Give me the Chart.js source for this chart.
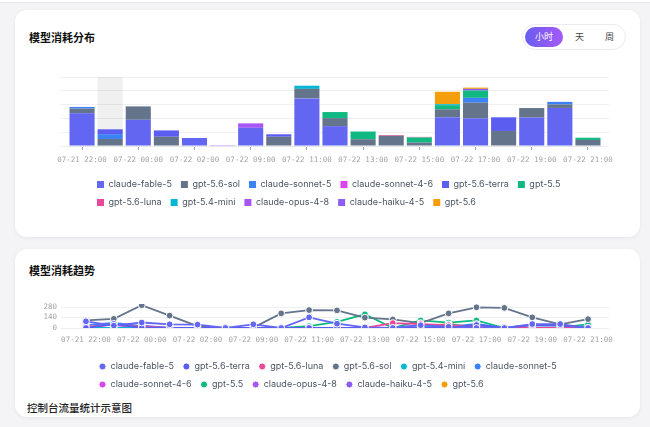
<!DOCTYPE html>
<html lang="zh">
<head>
<meta charset="utf-8">
<script src="https://cdn.jsdelivr.net/npm/chart.js@4.4.1/dist/chart.umd.min.js"></script>
<style>
  body { margin: 0; width: 650px; height: 427px; overflow: hidden; background: #f4f4f6; font-family: Inter, "Noto Sans CJK SC", sans-serif; position: relative; }
  .barra-superior { position: absolute; left: 0; top: -10px; width: 650px; height: 12px; background: #fff; border-bottom: 1px solid #e6e6ea; }
  .card { position: absolute; left: 15px; width: 625px; background: #fff; border-radius: 12px; box-shadow: 0 1px 4px rgba(0,0,0,0.06); }
  .titulo { position: absolute; left: 14px; font-family: "Noto Sans CJK SC", sans-serif; font-weight: 700; font-size: 11px; color: #111; }
  .toggle { position: absolute; left: 507px; top: 14px; width: 102px; height: 24px; border: 1px solid #ececf0; border-radius: 13px; background: #fff; font-family: "Noto Sans CJK SC", sans-serif; font-size: 9px; color: #444; }
  .toggle span { position: absolute; top: 0; line-height: 24px; }
  .toggle .activo { left: 2px; top: 2px; width: 38px; height: 20px; line-height: 20px; border-radius: 10px; text-align: center; color: #fff; background: linear-gradient(90deg, #6a5cf0, #a45bf6); }
  .contenedor { position: absolute; left: 0; width: 625px; }
  .pie { position: absolute; left: 12px; top: 151px; font-family: "Noto Sans CJK SC", sans-serif; font-size: 10.5px; font-weight: 500; color: #222; }
</style>
</head>
<body>
<div class="barra-superior"></div>
<div class="card" style="top:10px;height:227px;">
  <div class="titulo" style="top:19px;">模型消耗分布</div>
  <div class="toggle">
    <span class="activo">小时</span>
    <span style="left:52px;">天</span>
    <span style="left:82px;">周</span>
  </div>
  <div class="contenedor" style="top:57px;height:150px;"><canvas id="graficoBarras"></canvas></div>
</div>
<div class="card" style="top:249px;height:168px;">
  <div class="titulo" style="top:13px;">模型消耗趋势</div>
  <div class="contenedor" style="top:45px;height:105px;"><canvas id="graficoLineas"></canvas></div>
  <div class="pie">控制台流量统计示意图</div>
</div>
<script>
// categorias del eje x (una por hora)
const categorias = ['07-21 22:00', '07-21 23:00', '07-22 00:00', '07-22 01:00', '07-22 02:00', '07-22 08:00',
  '07-22 09:00', '07-22 10:00', '07-22 11:00', '07-22 12:00', '07-22 13:00', '07-22 14:00', '07-22 15:00',
  '07-22 16:00', '07-22 17:00', '07-22 18:00', '07-22 19:00', '07-22 20:00', '07-22 21:00'];

// distribucion (barras apiladas)
const barFable5     = [238, 0, 190, 0, 58, 0, 132, 0, 345, 144, 0, 0, 0, 208, 201, 0, 206, 276, 0];
const barSol        = [33, 51, 97, 67, 0, 0, 0, 67, 69, 58, 49, 74, 25, 58, 113, 109, 69, 25, 44];
const barSonnet5    = [12, 35, 0, 0, 0, 0, 0, 0, 0, 0, 0, 0, 0, 0, 35, 0, 0, 19, 0];
const barSonnet46   = [0, 0, 0, 0, 0, 0, 0, 0, 0, 0, 0, 0, 0, 0, 0, 0, 0, 0, 0];
const barTerra      = [0, 35, 0, 46, 0, 0, 0, 18, 0, 0, 0, 0, 0, 0, 0, 99, 0, 0, 0];
const barGpt55      = [0, 0, 0, 0, 0, 0, 0, 0, 0, 44, 56, 0, 37, 30, 53, 0, 0, 0, 16];
const barLuna       = [0, 0, 0, 0, 0, 0, 0, 0, 0, 0, 0, 5, 4, 0, 0, 0, 0, 0, 0];
const barMini       = [0, 0, 0, 0, 0, 0, 0, 0, 23, 0, 0, 0, 0, 7, 0, 0, 0, 0, 0];
const barOpus48     = [0, 0, 0, 0, 0, 6, 32, 0, 0, 0, 0, 0, 0, 0, 0, 0, 0, 0, 0];
const barHaiku45    = [0, 0, 0, 0, 0, 0, 0, 0, 0, 0, 0, 0, 0, 0, 12, 0, 0, 0, 0];
const barGpt56      = [0, 0, 0, 0, 0, 0, 0, 0, 0, 0, 0, 0, 0, 90, 9, 0, 0, 0, 0];

// tendencia (lineas)
const linFable5     = [89, 32, 73, 49, 45, 0, 49, 0, 142, 57, 8, 0, 37, 16, 0, 0, 53, 53, 0];
const linTerra      = [0, 55, 0, 0, 0, 0, 0, 0, 0, 0, 0, 0, 0, 0, 40, 0, 40, 35, 0];
const linLuna       = [16, 45, 16, 0, 0, 0, 0, 0, 0, 0, 0, 65, 53, 37, 16, 0, 0, 0, 0];
const linSol        = [101, 122, 304, 166, 24, 0, 5, 195, 239, 235, 138, 114, 65, 195, 276, 268, 142, 49, 118];
const linMini       = [0, 0, 0, 0, 0, 0, 0, 0, 0, 0, 0, 0, 0, 50, 0, 0, 0, 0, 0];
const linSonnet5    = [37, 69, 24, 0, 0, 0, 0, 0, 0, 0, 0, 0, 37, 16, 53, 0, 37, 37, 0];
const linSonnet46   = [0, 50, 0, 0, 0, 0, 0, 0, 0, 0, 0, 0, 0, 0, 0, 0, 0, 0, 0];
const linGpt55      = [0, 0, 0, 0, 0, 0, 0, 0, 24, 81, 183, 0, 101, 73, 101, 0, 0, 8, 49];
const linOpus48     = [0, 0, 30, 0, 0, 0, 0, 0, 0, 0, 0, 0, 0, 0, 0, 0, 0, 0, 0];
const linHaiku45    = [0, 0, 0, 0, 0, 0, 0, 0, 0, 0, 0, 0, 0, 0, 0, 0, 0, 0, 0];
const linGpt56      = [0, 0, 0, 0, 0, 0, 0, 0, 0, 0, 0, 0, 0, 57, 0, 0, 0, 0, 0];

const ticksTendencia = [0, 140, 280];

document.addEventListener('DOMContentLoaded', function () {

  function colorModelo(nombre) {
    switch (nombre) {
      case 'claude-fable-5': return '#6366f1';
      case 'gpt-5.6-sol': return '#64748b';
      case 'claude-sonnet-5': return '#3b82f6';
      case 'claude-sonnet-4-6': return '#d946ef';
      case 'gpt-5.6-terra': return '#5b5cf0';
      case 'gpt-5.5': return '#10b981';
      case 'gpt-5.6-luna': return '#ec4899';
      case 'gpt-5.4-mini': return '#06b6d4';
      case 'claude-opus-4-8': return '#a855f7';
      case 'claude-haiku-4-5': return '#8b5cf6';
      case 'gpt-5.6': return '#f59e0b';
    }
    return '#000';
  }

  const fuenteEje = { family: 'DejaVu Sans Mono', size: 7.5 };
  const fuenteLeyenda = { family: 'Inter', size: 9 };

  // sombra gris del hover sobre la segunda columna
  const sombraHover = {
    id: 'sombraHover',
    beforeDatasetsDraw(chart) {
      const barra = chart.getDatasetMeta(0).data[1];
      const { top, bottom } = chart.chartArea;
      const ctx = chart.ctx;
      ctx.save();
      ctx.fillStyle = 'rgba(0,0,0,0.06)';
      ctx.fillRect(barra.x - barra.width / 2, top, barra.width, bottom - top);
      ctx.restore();
    }
  };

  // la leyenda arranca alineada a la izquierda dentro de un bloque centrado
  const leyendaBloque = {
    id: 'leyendaBloque',
    afterLayout(chart, args, opts) {
      chart.legend.left = opts.left;
      chart.legend.right = opts.right;
    }
  };

  function crearSeriesBarras() {
    const series = [
      ['claude-fable-5', barFable5], ['gpt-5.6-sol', barSol], ['claude-sonnet-5', barSonnet5],
      ['claude-sonnet-4-6', barSonnet46], ['gpt-5.6-terra', barTerra], ['gpt-5.5', barGpt55],
      ['gpt-5.6-luna', barLuna], ['gpt-5.4-mini', barMini], ['claude-opus-4-8', barOpus48],
      ['claude-haiku-4-5', barHaiku45], ['gpt-5.6', barGpt56]
    ];
    return series.map(([nombre, valores]) => ({
      label: nombre,
      data: valores,
      backgroundColor: colorModelo(nombre),
      borderWidth: 0,
      categoryPercentage: 0.95,
      barPercentage: 0.94
    }));
  }

  function crearSeriesLineas() {
    const series = [
      ['claude-fable-5', linFable5], ['gpt-5.6-terra', linTerra], ['gpt-5.6-luna', linLuna],
      ['gpt-5.6-sol', linSol], ['gpt-5.4-mini', linMini], ['claude-sonnet-5', linSonnet5],
      ['claude-sonnet-4-6', linSonnet46], ['gpt-5.5', linGpt55], ['claude-opus-4-8', linOpus48],
      ['claude-haiku-4-5', linHaiku45], ['gpt-5.6', linGpt56]
    ];
    return series.map(([nombre, valores]) => ({
      label: nombre,
      data: valores,
      borderColor: colorModelo(nombre),
      backgroundColor: colorModelo(nombre),
      pointBackgroundColor: colorModelo(nombre),
      pointBorderColor: '#fff',
      pointBorderWidth: 1,
      pointRadius: 3.4,
      borderWidth: 1.8,
      tension: 0
    }));
  }

  new Chart(document.getElementById('graficoBarras'), {
    type: 'bar',
    data: { labels: categorias, datasets: crearSeriesBarras() },
    plugins: [sombraHover, leyendaBloque],
    options: {
      responsive: true,
      maintainAspectRatio: false,
      animation: false,
      layout: { padding: { top: 10, right: 31, left: 0, bottom: 0 } },
      scales: {
        x: {
          stacked: true,
          grid: {
            drawOnChartArea: false,
            tickLength: 4,
            offset: false,
            color: ctx => (ctx.index % 2 === 0 ? '#9ca3af' : 'rgba(0,0,0,0)')
          },
          border: { color: '#e5e7eb' },
          ticks: {
            autoSkip: false,
            maxRotation: 0,
            padding: 6,
            color: '#a3a3a3',
            font: fuenteEje,
            callback: function (valor, i) { return i % 2 === 0 ? this.getLabelForValue(valor) : ''; }
          }
        },
        y: {
          stacked: true,
          min: 0,
          max: 500,
          ticks: { display: false, stepSize: 100 },
          grid: { color: '#f0f0f2', tickLength: 8 },
          border: { display: false },
          afterFit: s => { s.width = 53; }
        },
        y2: {
          position: 'right',
          min: 0,
          max: 500,
          ticks: { display: false, stepSize: 100 },
          grid: { drawOnChartArea: false, tickLength: 7, color: '#f0f0f2' },
          border: { display: false },
          afterFit: s => { s.width = 7; }
        }
      },
      plugins: {
        tooltip: { enabled: false },
        leyendaBloque: { left: 73, right: 590 },
        legend: {
          position: 'bottom',
          align: 'start',
          labels: { boxWidth: 7, boxHeight: 7, padding: 9, color: '#4b5563', font: fuenteLeyenda }
        }
      }
    }
  });

  new Chart(document.getElementById('graficoLineas'), {
    type: 'line',
    data: { labels: categorias, datasets: crearSeriesLineas() },
    plugins: [leyendaBloque],
    options: {
      responsive: true,
      maintainAspectRatio: false,
      animation: false,
      layout: { padding: { top: 10, right: 31, left: 0, bottom: 0 } },
      scales: {
        x: {
          offset: true,
          grid: { display: false, drawTicks: false },
          border: { display: false },
          ticks: {
            autoSkip: false,
            maxRotation: 0,
            padding: 8,
            color: '#a3a3a3',
            font: fuenteEje,
            callback: function (valor, i) { return i % 2 === 0 ? this.getLabelForValue(valor) : ''; }
          }
        },
        y: {
          min: 0,
          max: 320,
          afterBuildTicks: s => { s.ticks = ticksTendencia.map(v => ({ value: v })); },
          ticks: { autoSkip: false, padding: 4, color: '#a3a3a3', font: fuenteEje },
          grid: { color: '#efeff1', tickLength: 11 },
          border: { display: false },
          afterFit: s => { s.width = 57; }
        },
        y2: {
          position: 'right',
          min: 0,
          max: 320,
          afterBuildTicks: s => { s.ticks = ticksTendencia.map(v => ({ value: v })); },
          ticks: { display: false },
          grid: { drawOnChartArea: false, tickLength: 7, color: '#efeff1' },
          border: { display: false },
          afterFit: s => { s.width = 7; }
        }
      },
      plugins: {
        tooltip: { enabled: false },
        leyendaBloque: { left: 75, right: 590 },
        legend: {
          position: 'bottom',
          align: 'start',
          labels: { usePointStyle: true, pointStyle: 'circle', boxWidth: 7, boxHeight: 5, padding: 9, color: '#4b5563', font: fuenteLeyenda }
        }
      }
    }
  });

});
</script>
</body>
</html>
